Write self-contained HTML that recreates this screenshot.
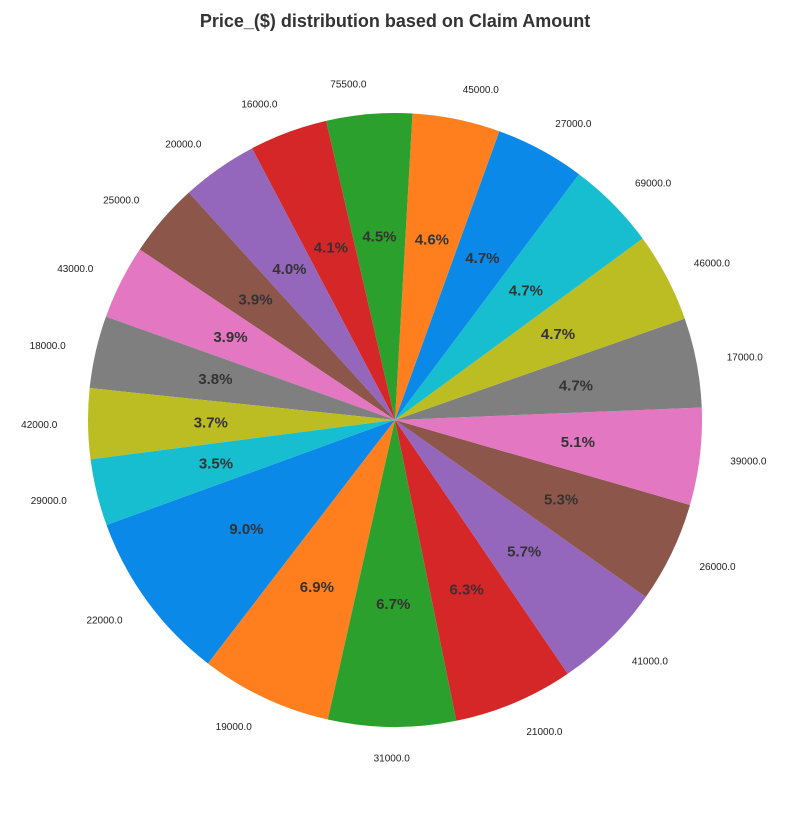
<!DOCTYPE html>
<html><head><meta charset="utf-8">
<style>
body{margin:0;background:#fff;}
svg{display:block;font-family:"Liberation Sans",sans-serif;}
</style></head>
<body>
<svg id="chart" width="790" height="815" viewBox="0 0 790 815">
<text x="395" y="27" text-anchor="middle" font-size="18" font-weight="bold" fill="#333">Price_($) distribution based on Claim Amount</text>
<g id="slices"></g>
<g id="labels"></g>
</svg>
<script>
const categories = ["22000.0","19000.0","31000.0","21000.0","41000.0","26000.0","39000.0","17000.0","46000.0","69000.0","27000.0","45000.0","75500.0","16000.0","20000.0","25000.0","43000.0","18000.0","42000.0","29000.0"];
const values = [9.0,6.9,6.7,6.3,5.7,5.3,5.1,4.7,4.7,4.7,4.7,4.6,4.5,4.1,4.0,3.9,3.9,3.8,3.7,3.5];
const colors = ["#0a89e8","#ff7f1e","#2ca02c","#d62728","#9467bd","#8c564b","#e377c2","#7f7f7f","#bcbd22","#17becf"];
const cx=395, cy=420, R=307, startAngle=200;
const ns="http://www.w3.org/2000/svg";
const total = values.reduce((a,b)=>a+b,0);
const gS=document.getElementById('slices'), gL=document.getElementById('labels');
function pt(a,r){const t=a*Math.PI/180;return [cx+r*Math.cos(t), cy-r*Math.sin(t)];}
let a0=startAngle;
values.forEach((v,i)=>{
  const sweep=v/total*360, a1=a0+sweep;
  const p0=pt(a0,R), p1=pt(a1,R);
  const path=document.createElementNS(ns,'path');
  path.setAttribute('d',`M${cx},${cy} L${p0[0]},${p0[1]} A${R},${R} 0 ${sweep>180?1:0} 0 ${p1[0]},${p1[1]} Z`);
  path.setAttribute('fill',colors[i%colors.length]);
  
  
  gS.appendChild(path);
  const m=(a0+a1)/2;
  const pp=pt(m,R*0.6);
  const t=document.createElementNS(ns,'text');
  t.setAttribute('x',pp[0]);t.setAttribute('y',pp[1]+5);
  t.setAttribute('text-anchor','middle');t.setAttribute('font-size','15');
  t.setAttribute('font-weight','bold');t.setAttribute('fill','#333');
  t.textContent=v.toFixed(1)+'%';
  
  
  gL.appendChild(t);
  const lp=pt(m,R*1.1);
  const c=Math.cos(m*Math.PI/180);
  const l=document.createElementNS(ns,'text');
  l.setAttribute('x',lp[0]);l.setAttribute('y',lp[1]+4);
  l.setAttribute('text-anchor',c>0.05?'start':(c<-0.05?'end':'middle'));
  l.setAttribute('font-size','10');l.setAttribute('fill','#222');
  l.textContent=categories[i];
  
  
  gL.appendChild(l);
  a0=a1;
});
</script>
</body></html>
